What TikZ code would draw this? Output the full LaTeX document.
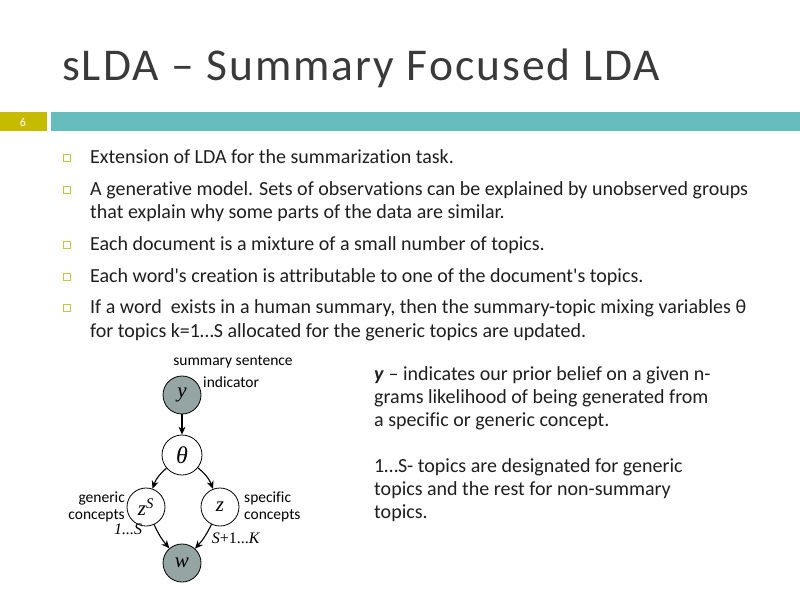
\documentclass[tikz,border=0pt]{standalone}
\usepackage{fontspec}
\setmainfont{Carlito}[Ligatures={TeX,NoCommon}]
\newfontfamily\modelfont{Liberation Serif}
\usetikzlibrary{arrows.meta}
\definecolor{barolive}{RGB}{197,188,0}
\definecolor{barteal}{RGB}{103,189,189}
\definecolor{bulletyel}{RGB}{205,195,60}
\definecolor{nodegray}{RGB}{149,165,163}
\definecolor{titlegray}{RGB}{58,58,58}

\tikzset{
	var/.style={circle, draw, line width=0.8pt, minimum size=38pt, inner sep=0pt, font=\modelfont\itshape\fontsize{21}{21}\selectfont},
	obs/.style={var, fill=nodegray},
	lbl/.style={inner sep=0pt, font=\fontsize{15.5}{17}\selectfont},
	bul/.style={draw=bulletyel, line width=1pt, minimum size=7.5pt, inner sep=0pt},
	body/.style={anchor=base west, inner sep=0pt, text=black!88, font=\fontsize{20}{23}\selectfont},
}

\begin{document}
\begin{tikzpicture}[x=1pt, y=-1pt]
	\useasboundingbox[fill=white] (0,0) rectangle (800,600);
	% title and bar
	\node (title) [anchor=base west, inner sep=0pt, text=titlegray, font=\addfontfeature{LetterSpace=4.5}\fontsize{45.5}{45.5}\selectfont] at (62,80) {sLDA – Summary Focused LDA};
	\fill[barolive] (0,112) rectangle (47,131);
	\fill[barteal] (51,112) rectangle (800,131);
	\node (num) [text=white, font=\fontsize{12}{12}\selectfont] at (23,122) {6};
	% bullets
	\node (s1) [bul] at (67,158) {};
	\node (s2) [bul] at (67,190) {};
	\node (s3) [bul] at (67,245) {};
	\node (s4) [bul] at (67,277) {};
	\node (s5) [bul] at (67,308) {};
	\node (b1) [body] at (90,163) {Extension of LDA for the summarization task.};
	\node (b2) [body] at (90,195) {A generative model. Sets of observations can be explained by unobserved groups};
	\node (b2b) [body] at (90,218) {that explain why some parts of the data are similar.};
	\node (b3) [body] at (90,250) {Each document is a mixture of a small number of topics.};
	\node (b4) [body] at (90,282) {Each word\textquotesingle s creation is attributable to one of the document\textquotesingle s topics.};
	\node (b5) [body] at (90,313) {If a word\ \ exists in a human summary, then the summary-topic mixing variables θ};
	\node (b5b) [body] at (90,337) {for topics k=1…S allocated for the generic topics are updated.};
	% side text
	\node (t1) [body] at (374,380) {\textbf{\textit{y}} – indicates our prior belief on a given n-};
	\node (t2) [body] at (374,403) {grams likelihood of being generated from};
	\node (t3) [body] at (374,426) {a specific or generic concept.};
	\node (t4) [body] at (374,472) {1…S- topics are designated for generic};
	\node (t5) [body] at (374,495) {topics and the rest for non-summary};
	\node (t6) [body] at (374,518) {topics.};
	% graphical model
	\node (y) [obs] at (182,395) {y};
	\node (theta) [var, minimum size=40pt, font=\modelfont\itshape\fontsize{24}{24}\selectfont] at (182,455) {θ};
	\node (zs) [var] at (146,507) {z\textsuperscript{S}};
	\node (z) [var] at (220,507) {z};
	\node (w) [obs] at (182,563) {w};
	\path[-{Stealth[length=8pt, width=7pt]}, line width=1.1pt]
	(y) edge (theta)
	(theta) edge [bend right=15] (zs)
	(theta) edge [bend left=15] (z)
	(zs) edge [bend right=8] (w)
	(z) edge [bend left=8] (w)
	;
	\node (lsum) [lbl] at (233,362) {summary sentence};
	\node (lind) [lbl, anchor=west] at (203,382) {indicator};
	\node (lgen) [lbl, anchor=east, align=right] at (125,507) {generic\\concepts};
	\node (lspe) [lbl, anchor=west, align=left] at (244,507) {specific\\concepts};
	\node (lone) [lbl, font=\modelfont\itshape\fontsize{16}{16}\selectfont] at (128,529) {1...S};
	\node (lrest) [lbl, font=\modelfont\fontsize{16}{16}\selectfont] at (236,538) {\textit{S}+1...\textit{K}};
\end{tikzpicture}
\end{document}
